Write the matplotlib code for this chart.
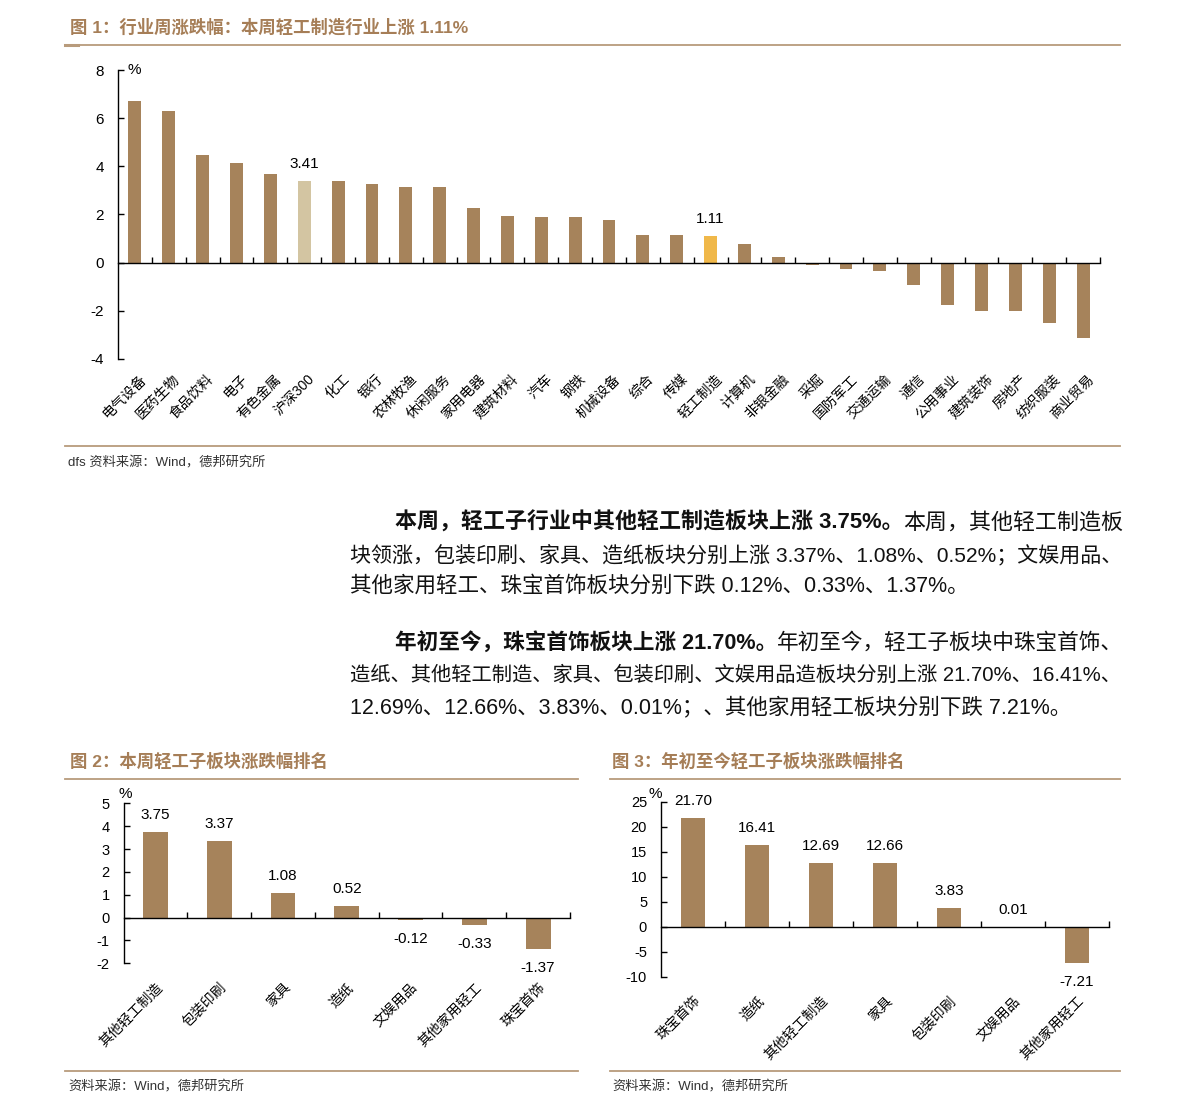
import matplotlib
matplotlib.use('Agg')
import matplotlib.pyplot as plt
import numpy as np

plt.rcParams['font.family'] = ['Liberation Sans', 'Noto Sans CJK SC']
plt.rcParams['axes.unicode_minus'] = False

# ---- data ----
industries = ['电气设备', '医药生物', '食品饮料', '电子', '有色金属', '沪深300', '化工', '银行',
              '农林牧渔', '休闲服务', '家用电器', '建筑材料', '汽车', '钢铁', '机械设备', '综合',
              '传媒', '轻工制造', '计算机', '非银金融', '采掘', '国防军工', '交通运输', '通信',
              '公用事业', '建筑装饰', '房地产', '纺织服装', '商业贸易']
industry_chg = [6.72, 6.29, 4.49, 4.15, 3.67, 3.41, 3.38, 3.27, 3.15, 3.13, 2.28, 1.95, 1.90,
                1.88, 1.78, 1.16, 1.15, 1.11, 0.79, 0.25, -0.08, -0.25, -0.33, -0.92, -1.74,
                -1.99, -1.99, -2.49, -3.12]
highlight = {'沪深300': '#D3C5A2', '轻工制造': '#F0B84A'}

week_sub = ['其他轻工制造', '包装印刷', '家具', '造纸', '文娱用品', '其他家用轻工', '珠宝首饰']
week_chg = [3.75, 3.37, 1.08, 0.52, -0.12, -0.33, -1.37]

ytd_sub = ['珠宝首饰', '造纸', '其他轻工制造', '家具', '包装印刷', '文娱用品', '其他家用轻工']
ytd_chg = [21.70, 16.41, 12.69, 12.66, 3.83, 0.01, -7.21]

BAR = '#A6835B'
TITLE = '#A67E57'
RULE = '#B89B7C'

W, H = 1191, 1116
fig = plt.figure(figsize=(W / 100, H / 100), dpi=100)


def fx(x):
    return x / W


def fy(y):
    return 1 - y / H


def rule(x0, x1, y, lw=1.3):
    fig.add_artist(plt.Line2D([fx(x0), fx(x1)], [fy(y), fy(y)], color=RULE, lw=lw))


def style_axis(ax, n, yticks, ylim, tick_size):
    ax.set_xlim(-0.5, n - 0.5)
    ax.set_ylim(*ylim)
    ax.set_yticks(yticks)
    ax.spines['top'].set_visible(False)
    ax.spines['right'].set_visible(False)
    ax.spines['bottom'].set_position(('data', 0))
    for s in ('left', 'bottom'):
        ax.spines[s].set_linewidth(1.0)
    ax.set_xticks(np.arange(0.5, n, 1))
    ax.tick_params(axis='x', direction='in', length=4, width=1, labelbottom=False)
    ax.tick_params(axis='y', direction='in', length=4, width=1, pad=10, labelsize=tick_size)
    ax.patch.set_alpha(0)


def cat_labels(ax, labels, size, dx, dy):
    for i, lab in enumerate(labels):
        ax.annotate(lab, xy=(i, 0), xycoords=('data', 'axes fraction'),
                    xytext=(dx, dy), textcoords='offset pixels', rotation=45,
                    ha='right', va='top', rotation_mode='anchor', fontsize=size)


# ---- figure 1 ----
fig.text(fx(70), fy(27), '图 1：行业周涨跌幅：本周轻工制造行业上涨 1.11%', color=TITLE,
         fontsize=12.5, fontweight='bold', va='center')
rule(65, 1120, 45)
rule(65, 78, 45, lw=2.2)

ax1 = fig.add_axes([fx(118), fy(359), (1100 - 118) / W, (359 - 70) / H])
x1 = np.arange(len(industries))
c1 = [highlight.get(n, BAR) for n in industries]
ax1.bar(x1, industry_chg, width=0.38, color=c1)
style_axis(ax1, len(industries), range(-4, 9, 2), (-4, 8), 11)
cat_labels(ax1, industries, 10, 4, -13)
for name in highlight:
    i = industries.index(name)
    ax1.annotate(f'{industry_chg[i]:.2f}', xy=(i, industry_chg[i]), xytext=(0, 17),
                 textcoords='offset pixels', ha='center', va='center', fontsize=11)
ax1.annotate('%', xy=(0, 1), xycoords='axes fraction', xytext=(10, 0),
             textcoords='offset pixels', ha='left', va='center', fontsize=11)

rule(65, 1120, 446)
fig.text(fx(68), fy(463), 'dfs 资料来源：Wind，德邦研究所', fontsize=9.5, color='#333333', va='center')

# ---- paragraphs ----
renderer = fig.canvas.get_renderer()
RIGHT = 1122


def runs(x, y, parts, size=15.5, justify=False):
    texts = []
    for txt, bold in parts:
        t = fig.text(fx(x), fy(y), txt, fontsize=size, color='#111111', va='center', ha='left',
                     fontweight='bold' if bold else 'normal')
        texts.append(t)
    if justify:
        total = sum(t.get_window_extent(renderer).width for t in texts)
        size = size * (RIGHT - x) / total
        for t in texts:
            t.set_fontsize(size)
    for t in texts:
        t.set_x(fx(x))
        x += t.get_window_extent(renderer).width


runs(395, 523, [('本周，轻工子行业中其他轻工制造板块上涨 3.75%。', True), ('本周，其他轻工制造板', False)],
     justify=True)
runs(350, 555, [('块领涨，包装印刷、家具、造纸板块分别上涨 3.37%、1.08%、0.52%；文娱用品、', False)],
     justify=True)
runs(350, 586, [('其他家用轻工、珠宝首饰板块分别下跌 0.12%、0.33%、1.37%。', False)])
runs(395, 643, [('年初至今，珠宝首饰板块上涨 21.70%。', True), ('年初至今，轻工子板块中珠宝首饰、', False)],
     justify=True)
runs(350, 675, [('造纸、其他轻工制造、家具、包装印刷、文娱用品造板块分别上涨 21.70%、16.41%、', False)],
     justify=True)
runs(350, 707, [('12.69%、12.66%、3.83%、0.01%；、其他家用轻工板块分别下跌 7.21%。', False)])

# ---- figure 2 / figure 3 ----
fig.text(fx(70), fy(761), '图 2：本周轻工子板块涨跌幅排名', color=TITLE, fontsize=12.5,
         fontweight='bold', va='center')
fig.text(fx(612), fy(761), '图 3：年初至今轻工子板块涨跌幅排名', color=TITLE, fontsize=12.5,
         fontweight='bold', va='center')
rule(65, 578, 779)
rule(610, 1120, 779)


def small_chart(rect, names, vals, yticks, ylim, pct_off):
    ax = fig.add_axes(rect)
    x = np.arange(len(names))
    ax.bar(x, vals, width=0.39, color=BAR)
    style_axis(ax, len(names), yticks, ylim, 10.5)
    cat_labels(ax, names, 10, 0, -17)
    for i, v in enumerate(vals):
        ax.annotate(f'{v:.2f}', xy=(i, v), xytext=(0, 17 if v >= 0 else -19),
                    textcoords='offset pixels', ha='center', va='center', fontsize=11)
    ax.annotate('%', xy=(0, 1), xycoords='axes fraction', xytext=pct_off,
                textcoords='offset pixels', ha='center', va='center', fontsize=11)
    return ax


small_chart([fx(123.5), fy(963.3), (570 - 123.5) / W, (963.3 - 803.3) / H],
            week_sub, week_chg, range(-2, 6, 1), (-2, 5), (2, 9))
small_chart([fx(661), fy(976.7), (1109 - 661) / W, (976.7 - 801.7) / H],
            ytd_sub, ytd_chg, range(-10, 26, 5), (-10, 25), (-6, 8))

rule(65, 578, 1071)
rule(610, 1120, 1071)
fig.text(fx(68), fy(1087), '资料来源：Wind，德邦研究所', fontsize=9.5, color='#333333', va='center')
fig.text(fx(612), fy(1087), '资料来源：Wind，德邦研究所', fontsize=9.5, color='#333333', va='center')

fig.savefig('out.png', dpi=100)
